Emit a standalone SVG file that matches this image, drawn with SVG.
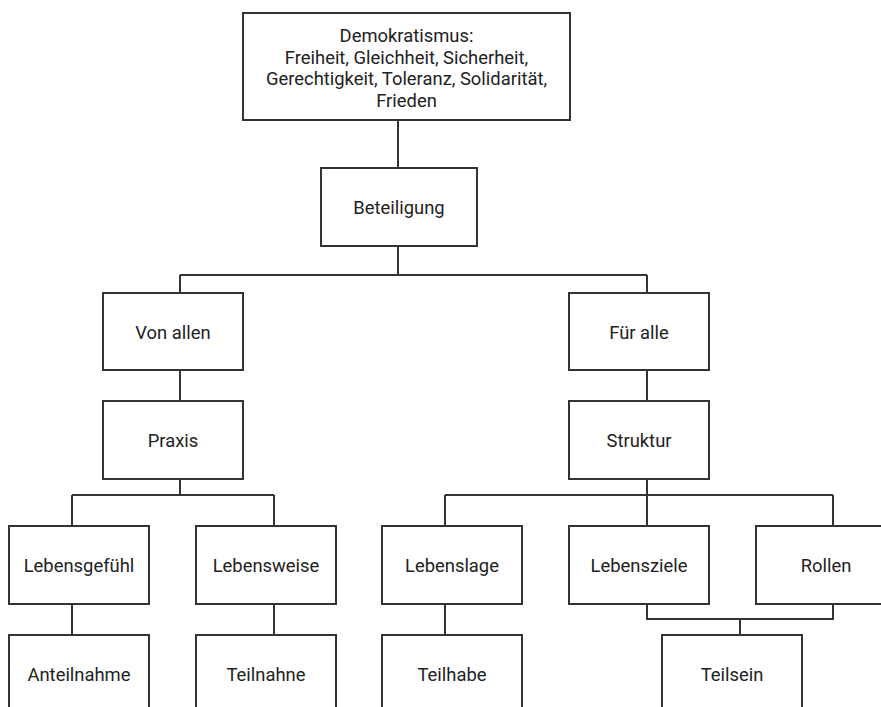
<svg xmlns="http://www.w3.org/2000/svg" width="881" height="707" viewBox="0 0 881 707">
<style>
rect{fill:#fff;stroke:#333;stroke-width:2}
text{font-family:Roboto,"Liberation Sans",sans-serif;font-size:18.4px;fill:#222;text-anchor:middle}
.c{fill:none;stroke:#333;stroke-width:2}
</style>
<rect x="0" y="0" width="881" height="707" style="stroke:none"/>
<g id="connectors">
<path class="c" d="M398 120V168M398 246V275M180 275H647M180 275V293M647 275V293M180 370V401M647 370V401M180 479V495M72 495H274M72 495V526M274 495V526M647 479V495M445 495H833M445 495V526M647 495V526M833 495V526M72 604V635M274 604V635M445 604V635M647 604V619H833V604M740 619V635"/>
</g>
<g id="n-demokratismus"><rect x="243" y="13" width="327" height="107"/>
<text x="406.5" y="42">Demokratismus:</text>
<text x="406.5" y="63.5">Freiheit, Gleichheit, Sicherheit,</text>
<text x="406.5" y="85">Gerechtigkeit, Toleranz, Solidarität,</text>
<text x="406.5" y="106.5">Frieden</text></g>
<g id="n-beteiligung"><rect x="321" y="168" width="156" height="78"/><text x="399" y="214">Beteiligung</text></g>
<g id="n-vonallen"><rect x="103" y="293" width="140" height="77"/><text x="173" y="338.5">Von allen</text></g>
<g id="n-praxis"><rect x="103" y="401" width="140" height="78"/><text x="173" y="447">Praxis</text></g>
<g id="n-fueralle"><rect x="569" y="293" width="140" height="77"/><text x="639" y="338.5">Für alle</text></g>
<g id="n-struktur"><rect x="569" y="401" width="140" height="78"/><text x="639" y="447">Struktur</text></g>
<g id="n-lebensgefuehl"><rect x="9" y="526" width="140" height="78"/><text x="79" y="572">Lebensgefühl</text></g>
<g id="n-lebensweise"><rect x="196" y="526" width="140" height="78"/><text x="266" y="572">Lebensweise</text></g>
<g id="n-lebenslage"><rect x="382" y="526" width="140" height="78"/><text x="452" y="572">Lebenslage</text></g>
<g id="n-lebensziele"><rect x="569" y="526" width="140" height="78"/><text x="639" y="572">Lebensziele</text></g>
<g id="n-rollen"><rect x="756" y="526" width="140" height="78"/><text x="826" y="572">Rollen</text></g>
<g id="n-anteilnahme"><rect x="9" y="635" width="140" height="78"/><text x="79" y="681">Anteilnahme</text></g>
<g id="n-teilnahne"><rect x="196" y="635" width="140" height="78"/><text x="266" y="681">Teilnahne</text></g>
<g id="n-teilhabe"><rect x="382" y="635" width="140" height="78"/><text x="452" y="681">Teilhabe</text></g>
<g id="n-teilsein"><rect x="662" y="635" width="140" height="78"/><text x="732" y="681">Teilsein</text></g>
</svg>
